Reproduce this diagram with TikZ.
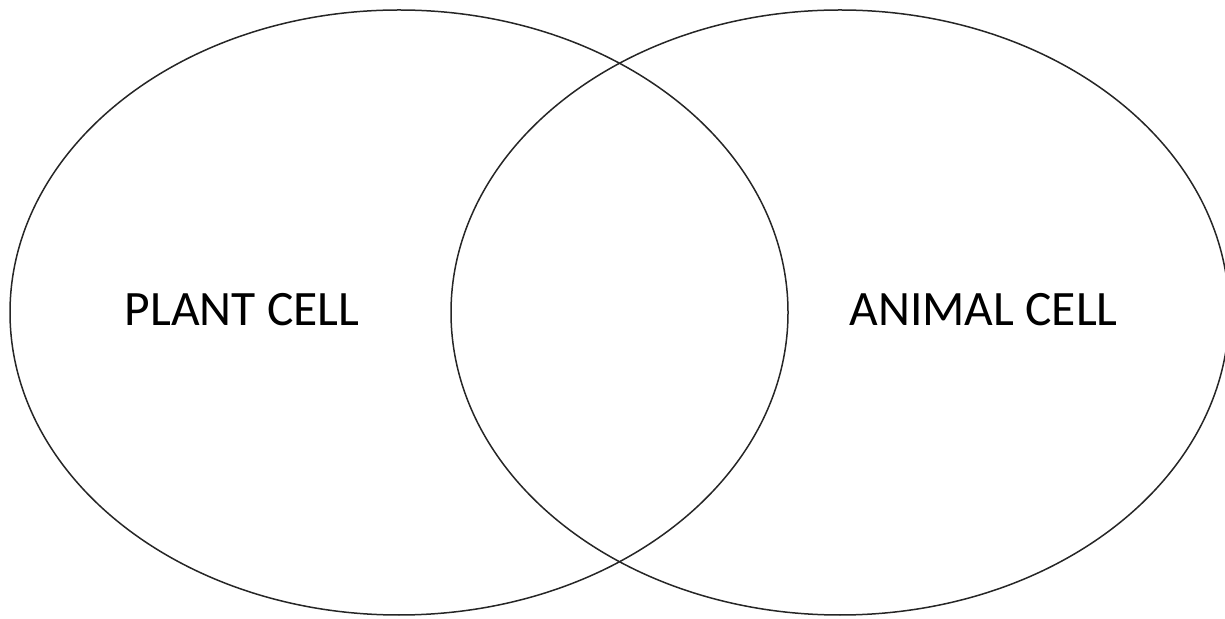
\documentclass[tikz,border=0pt]{standalone}
\usepackage{fontspec}
\setmainfont{Carlito}
\usetikzlibrary{positioning}

\begin{document}
\begin{tikzpicture}[
    x=1pt, y=1pt,
    cellset/.style={draw=black!85, line width=1.5pt},
    celllabel/.style={font=\fontsize{49.5}{52}\selectfont, text=black, inner sep=0pt, anchor=base}
]
    % --- Rahmen ---
    \useasboundingbox (0,0) rectangle (1225,618);
    \clip (0,0) rectangle (1225,618);

    % --- Mengen (Ellipsen) ---
    \draw[cellset] (399,305.5) ellipse [x radius=389, y radius=302.5];
    \draw[cellset] (840,305.5) ellipse [x radius=389, y radius=302.5];

    % --- Beschriftungen ---
    \node[celllabel] (plant) at (242,292) {PLANT CELL};
    \node[celllabel] (animal) at (983.5,292) {ANIMAL CELL};
\end{tikzpicture}
\end{document}
